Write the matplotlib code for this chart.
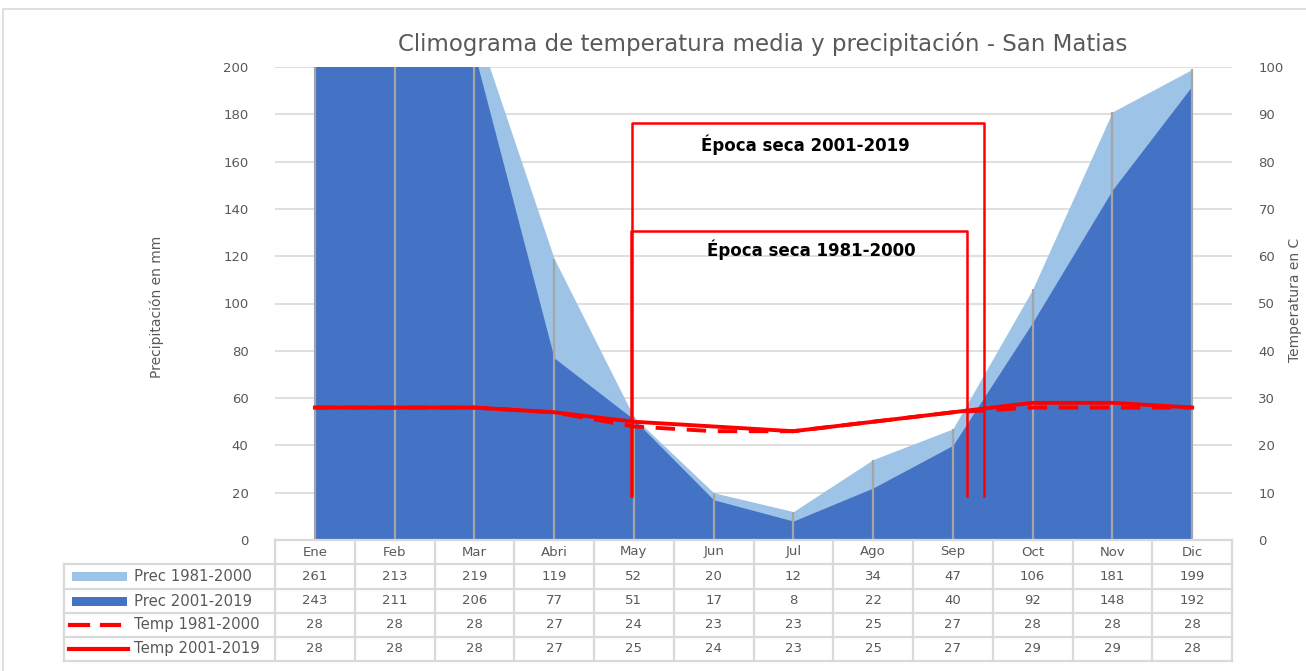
import matplotlib
matplotlib.use("Agg")
import matplotlib.pyplot as plt
from matplotlib.lines import Line2D
from matplotlib.patches import Rectangle
import numpy as np

# ---------------- data ----------------
months = ["Ene", "Feb", "Mar", "Abri", "May", "Jun", "Jul", "Ago", "Sep", "Oct", "Nov", "Dic"]
prec_1981_2000 = [261, 213, 219, 119, 52, 20, 12, 34, 47, 106, 181, 199]
prec_2001_2019 = [243, 211, 206, 77, 51, 17, 8, 22, 40, 92, 148, 192]
temp_1981_2000 = [28, 28, 28, 27, 24, 23, 23, 25, 27, 28, 28, 28]
temp_2001_2019 = [28, 28, 28, 27, 25, 24, 23, 25, 27, 29, 29, 28]
series_names = ["Prec 1981-2000", "Prec 2001-2019", "Temp 1981-2000", "Temp 2001-2019"]
title = "Climograma de temperatura media y precipitación - San Matias"
ylabel_left = "Precipitación en mm"
ylabel_right = "Temperatura en C"
# dry-season brackets (x in category units, heights in mm)
dry_labels = ["Época seca 2001-2019", "Época seca 1981-2000"]
dry_start = [3.98, 3.96]
dry_end = [8.39, 8.18]
dry_top = [176.5, 130.5]
dry_label_x = [6.15, 6.22]
dry_label_y = [167.0, 122.6]
dry_bottom = 18.5

# ---------------- style ----------------
W, H = 1306, 671
LIGHT = "#9DC3E6"
DARK = "#4472C4"
GRID = "#D9D9D9"
TXT = "#595959"
DROP = "#A5A5A5"
RED = "#FF0000"
FONT = ["DejaVu Sans"]
plt.rcParams["font.family"] = FONT

def fx(px):
    return px / W

def fy(py):
    return 1 - py / H

fig = plt.figure(figsize=(W / 100, H / 100), dpi=100)
fig.patch.set_facecolor("white")

# outer chart frame
fig.add_artist(Rectangle((fx(3), fy(700)), fx(1320) - fx(3), fy(9) - fy(700),
                         transform=fig.transFigure, fill=False, ec=GRID, lw=1.2))

L, R, T, B = 275, 1232, 67, 540
ax = fig.add_axes([fx(L), fy(B), fx(R) - fx(L), fy(T) - fy(B)])
ax2 = ax.twinx()

x = np.arange(len(months))
ax.set_xlim(-0.5, len(months) - 0.5)
ax.set_ylim(0, 200)
ax2.set_ylim(0, 100)

ax.set_yticks(np.arange(0, 201, 20))
ax2.set_yticks(np.arange(0, 101, 10))
ax.yaxis.grid(True, color=GRID, lw=1.2)
ax.set_axisbelow(True)
ax.set_xticks([])
for a in (ax, ax2):
    for s in a.spines.values():
        s.set_visible(False)
ax.tick_params(axis="y", length=0, pad=19, labelsize=9.5, labelcolor=TXT)
ax2.tick_params(axis="y", length=0, pad=19, labelsize=9.5, labelcolor=TXT)

ax.fill_between(x, 0, prec_1981_2000, color=LIGHT, lw=0, zorder=2)
ax.fill_between(x, 0, prec_2001_2019, color=DARK, lw=0, zorder=3)
top_vals = np.minimum(np.maximum(prec_1981_2000, prec_2001_2019), 200)
ax.vlines(x, 0, top_vals, color=DROP, lw=1.6, zorder=4)

ax2.plot(x, temp_1981_2000, color=RED, lw=2.8, ls=(0, (5, 3)), zorder=5)
ax2.plot(x, temp_2001_2019, color=RED, lw=2.8, zorder=6)

# dry season brackets
for lab, s, e, t, lx, ly in zip(dry_labels, dry_start, dry_end, dry_top,
                                dry_label_x, dry_label_y):
    ax.plot([s, s, e, e], [dry_bottom, t, t, dry_bottom], color=RED, lw=1.8,
            zorder=7, clip_on=False)
    ax.text(lx, ly, lab, ha="center", va="center",
            fontsize=12, fontweight="semibold", color="black", zorder=8)

ax.patch.set_alpha(0)
ax2.set_zorder(ax.get_zorder() + 1)
ax2.patch.set_alpha(0)

# titles / labels
fig.text(fx(763), fy(44), title, ha="center", va="center", fontsize=16.5, color=TXT)
fig.text(fx(157), fy(307), ylabel_left, ha="center", va="center", rotation=90,
         fontsize=10, color=TXT)
fig.text(fx(1295), fy(300), ylabel_right, ha="center", va="center", rotation=90,
         fontsize=10, color=TXT)

# ---------------- data table ----------------
col_w = (R - L) / len(months)
row_y = [540, 564, 589, 613, 637, 661]
leg_left = 64

def hline(x0, x1, y):
    fig.add_artist(Line2D([fx(x0), fx(x1)], [fy(y), fy(y)], color=GRID, lw=1.6,
                          transform=fig.transFigure))

def vline(xp, y0, y1):
    fig.add_artist(Line2D([fx(xp), fx(xp)], [fy(y0), fy(y1)], color=GRID, lw=1.6,
                          transform=fig.transFigure))

hline(L, R, row_y[0])
for y in row_y[1:]:
    hline(leg_left, R, y)
vline(leg_left, row_y[1], row_y[-1])
for i in range(len(months) + 1):
    vline(L + i * col_w, row_y[0], row_y[-1])

for i, m in enumerate(months):
    cx = L + (i + 0.5) * col_w
    fig.text(fx(cx), fy((row_y[0] + row_y[1]) / 2), m, ha="center", va="center",
             fontsize=9.5, color=TXT)

rows = [prec_1981_2000, prec_2001_2019, temp_1981_2000, temp_2001_2019]
for r, vals in enumerate(rows):
    cy = (row_y[r + 1] + row_y[r + 2]) / 2
    for i, v in enumerate(vals):
        cx = L + (i + 0.5) * col_w
        fig.text(fx(cx), fy(cy), str(v), ha="center", va="center", fontsize=9.5,
                 color=TXT)
    fig.text(fx(134), fy(cy), series_names[r], ha="left", va="center",
             fontsize=10.7, color=TXT)

# legend keys
ky = [(row_y[i + 1] + row_y[i + 2]) / 2 for i in range(4)]
for k, col in zip(ky[:2], [LIGHT, DARK]):
    fig.add_artist(Rectangle((fx(72), fy(k + 4.5)), fx(127) - fx(72), fy(k - 4.5) - fy(k + 4.5),
                             transform=fig.transFigure, color=col, lw=0))
fig.add_artist(Line2D([fx(70), fx(88)], [fy(ky[2]), fy(ky[2])], color=RED, lw=3,
                      transform=fig.transFigure))
fig.add_artist(Line2D([fx(102), fx(119)], [fy(ky[2]), fy(ky[2])], color=RED, lw=3,
                      transform=fig.transFigure))
fig.add_artist(Line2D([fx(69), fx(128)], [fy(ky[3]), fy(ky[3])], color=RED, lw=3,
                      transform=fig.transFigure))

fig.savefig("out.png", dpi=100, facecolor="white")
